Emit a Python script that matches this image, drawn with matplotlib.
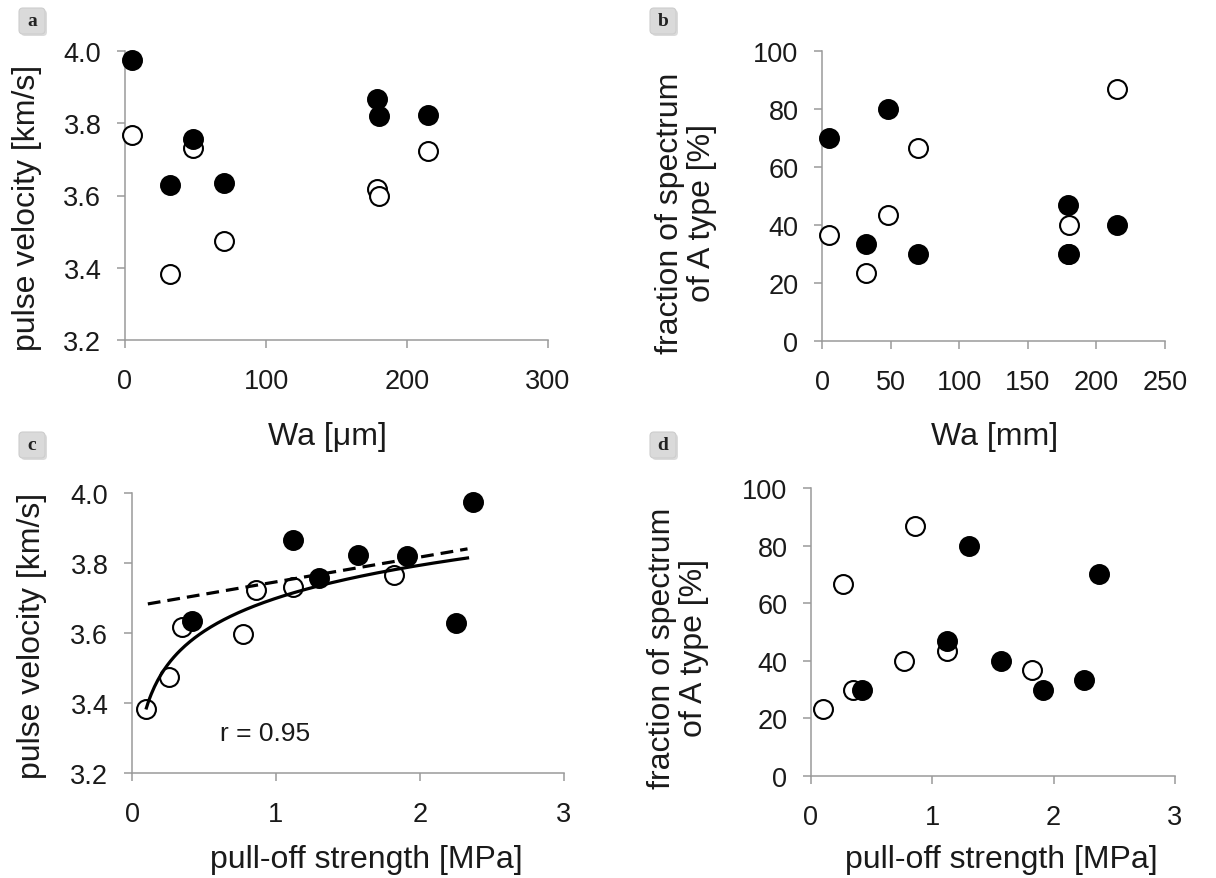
import numpy as np
import matplotlib.pyplot as plt
from matplotlib.patches import FancyBboxPatch

plt.rcParams['font.family'] = ['Liberation Sans', 'DejaVu Sans']

# samples shown with filled circles
wa_f = [5, 32, 48, 70, 179, 180, 215]
vel_f = [3.974, 3.628, 3.756, 3.635, 3.867, 3.819, 3.823]
pull_f = [2.37, 2.25, 1.30, 0.42, 1.12, 1.91, 1.57]
frac_f = [70.0, 33.3, 80.0, 30.0, 46.8, 30.0, 40.0]

# samples shown with open circles
wa_o = [5, 32, 48, 70, 179, 180, 215]
vel_o = [3.767, 3.384, 3.731, 3.474, 3.618, 3.598, 3.724]
pull_o = [1.82, 0.10, 1.12, 0.26, 0.35, 0.77, 0.86]
frac_o = [36.7, 23.3, 43.4, 66.6, 30.0, 40.0, 86.8]

fit_range = (0.1, 2.33)
r_text = "r = 0.95"

W, H = 1216, 879
TFS = 19.5   # tick labels
LFS = 23     # axis labels
GRAY = '#9a9a9a'
TXT = '#1a1a1a'

fig = plt.figure(figsize=(W / 100, H / 100), dpi=100)

def px_rect(x0, x1, ytop, ybot):
    return [x0 / W, 1 - ybot / H, (x1 - x0) / W, (ybot - ytop) / H]

def make_ax(rect, xlim, xticks, ylim, yticks, yfmt):
    ax = fig.add_axes(rect)
    ax.set_xlim(xlim)
    ax.set_ylim(ylim)
    ax.set_xticks(xticks)
    ax.set_yticks(yticks)
    ax.set_yticklabels([yfmt.format(v) for v in yticks])
    ax.set_xticklabels([str(v) for v in xticks])
    for s in ['top', 'right']:
        ax.spines[s].set_visible(False)
    for s in ['left', 'bottom']:
        ax.spines[s].set_color(GRAY)
        ax.spines[s].set_linewidth(1.1)
    ax.tick_params(axis='both', direction='out', length=6, width=1.1, color=GRAY,
                   labelsize=TFS, labelcolor=TXT)
    ax.tick_params(axis='y', pad=11)
    ax.tick_params(axis='x', pad=14)
    return ax

def points(ax, x_o, y_o, x_f, y_f):
    ax.scatter(x_o, y_o, s=185, facecolor='white', edgecolor='black', linewidth=1.5, zorder=3, clip_on=False)
    ax.scatter(x_f, y_f, s=185, facecolor='black', edgecolor='black', linewidth=1.5, zorder=4, clip_on=False)

def label(txt, x, y, rot=0):
    fig.text(x / W, 1 - y / H, txt, fontsize=LFS, rotation=rot, ha='center', va='center',
             color=TXT, multialignment='center', linespacing=1.05)

# a
ax_a = make_ax(px_rect(125, 548, 52, 341), (0, 300), [0, 100, 200, 300],
               (3.2, 4.0), [3.2, 3.4, 3.6, 3.8, 4.0], "{:.1f}")
points(ax_a, wa_o, vel_o, wa_f, vel_f)
label("pulse velocity [km/s]", 27, 208, 90)
label("Wa [\u03bcm]", 327, 437)

# b
ax_b = make_ax(px_rect(822, 1165, 52, 342), (0, 250), [0, 50, 100, 150, 200, 250],
               (0, 100), [0, 20, 40, 60, 80, 100], "{:.0f}")
points(ax_b, wa_o, frac_o, wa_f, frac_f)
label("fraction of spectrum\nof A type [%]", 686, 213, 90)
label("Wa [mm]", 995, 437)

# c
ax_c = make_ax(px_rect(132, 564, 494, 774), (0, 3), [0, 1, 2, 3],
               (3.2, 4.0), [3.2, 3.4, 3.6, 3.8, 4.0], "{:.1f}")
points(ax_c, pull_o, vel_o, pull_f, vel_f)
b_log, a_log = np.polyfit(np.log(pull_o), vel_o, 1)
xs = np.linspace(fit_range[0], fit_range[1], 200)
ax_c.plot(xs, a_log + b_log * np.log(xs), color='black', linewidth=2.3, zorder=5)
k_lin, c_lin = np.polyfit(pull_f, vel_f, 1)
xl = np.array([fit_range[0] + 0.01, fit_range[1]])
ax_c.plot(xl, c_lin + k_lin * xl, color='black', linewidth=2.3, dashes=(4, 2.2), zorder=5)
fig.text(220 / W, 1 - 734 / H, r_text, fontsize=19, ha='left', va='center', color=TXT)
label("pulse velocity [km/s]", 32, 636, 90)
label("pull-off strength [MPa]", 366, 860)

# d
ax_d = make_ax(px_rect(811, 1175, 489, 777), (0, 3), [0, 1, 2, 3],
               (0, 100), [0, 20, 40, 60, 80, 100], "{:.0f}")
points(ax_d, pull_o, frac_o, pull_f, frac_f)
label("fraction of spectrum\nof A type [%]", 678, 648, 90)
label("pull-off strength [MPa]", 1001, 860)

# panel letters in small grey boxes
for lab, cx, cy in [('a', 32, 22), ('b', 663, 22), ('c', 32, 446), ('d', 663, 446)]:
    x0, y0 = cx - 13, H - cy - 13
    fig.patches.append(FancyBboxPatch((x0 + 2, y0 - 2), 26, 26, boxstyle='round,pad=0,rounding_size=4',
                                      facecolor='#c4c4c4', edgecolor='none', alpha=0.6, transform=None))
    fig.patches.append(FancyBboxPatch((x0, y0), 26, 26, boxstyle='round,pad=0,rounding_size=4',
                                      facecolor='#dadada', edgecolor='#cdcdcd', linewidth=0.8, transform=None))
    fig.text(cx / W, 1 - cy / H, lab, fontsize=14, fontweight='bold', family='Liberation Serif',
             ha='center', va='center', color='#222222')

fig.savefig("out.png", dpi=100)
